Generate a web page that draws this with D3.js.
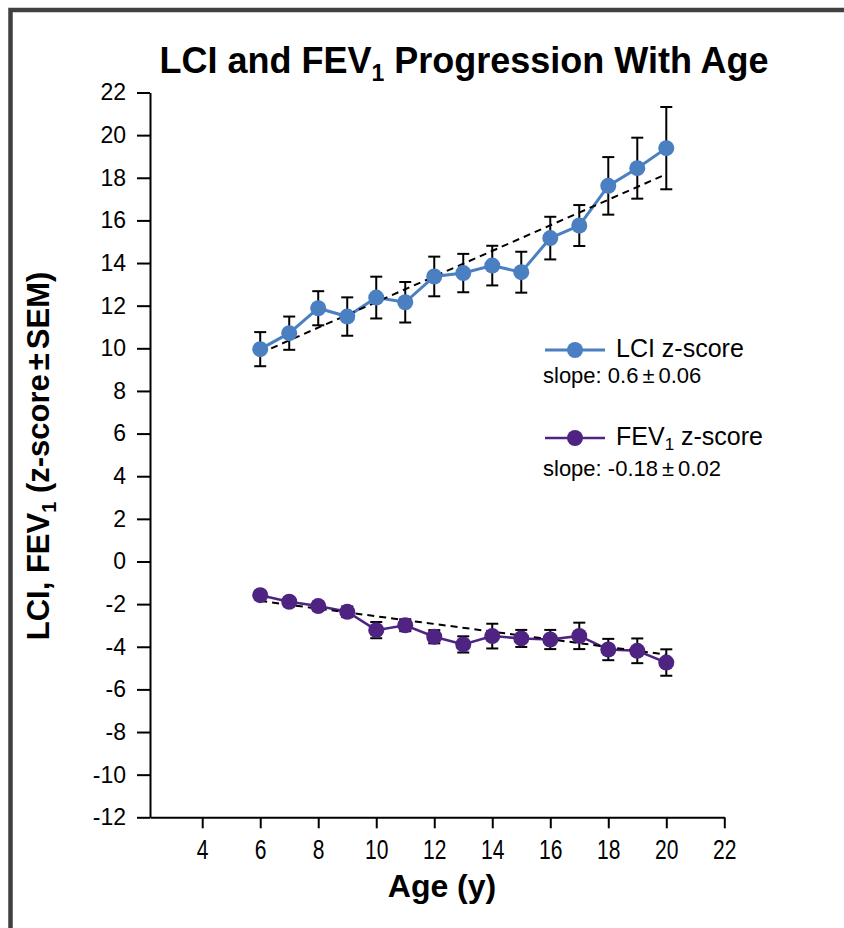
<!DOCTYPE html>
<html>
<head>
<meta charset="utf-8">
<script src="https://cdn.jsdelivr.net/npm/d3@7"></script>
<style>
  body { margin: 0; background: #fff; }
  svg { display: block; }
  text { font-family: "Liberation Sans", Arial, sans-serif; fill: #000; }
</style>
</head>
<body>
<script>
// Age in years for each group
const ages = [6, 7, 8, 9, 10, 11, 12, 13, 14, 15, 16, 17, 18, 19, 20];

// LCI z-score: mean and SEM per age
const lciMean = [9.96, 10.71, 11.88, 11.49, 12.38, 12.16, 13.37, 13.53, 13.88, 13.57, 15.17, 15.76, 17.62, 18.45, 19.39];
const lciSem  = [0.80, 0.78, 0.80, 0.90, 0.98, 0.95, 0.93, 0.90, 0.93, 0.96, 1.00, 0.96, 1.35, 1.43, 1.93];

// FEV1 z-score: mean and SEM per age
const fevMean = [-1.58, -1.89, -2.09, -2.36, -3.22, -2.99, -3.53, -3.89, -3.50, -3.61, -3.66, -3.49, -4.13, -4.19, -4.74];
const fevSem  = [0.20, 0.20, 0.20, 0.25, 0.38, 0.28, 0.31, 0.38, 0.58, 0.40, 0.45, 0.62, 0.50, 0.58, 0.62];

// Linear fits (value at first and last age)
const trendAges = [6, 20];
const lciTrend = [9.77, 18.17];
const fevTrend = [-1.85, -4.37];

// Axis ticks
const xTicks = [4, 6, 8, 10, 12, 14, 16, 18, 20, 22];
const yTicks = [-12, -10, -8, -6, -4, -2, 0, 2, 4, 6, 8, 10, 12, 14, 16, 18, 20, 22];

const W = 844, H = 928;
const LCI_COLOR = "#4a7fc1";
const FEV_COLOR = "#4f2382";
const FONT = '"Liberation Sans", Arial, sans-serif';

const svg = d3.select("body").append("svg").attr("width", W).attr("height", H);

// outer frame (left and top edges)
svg.append("path")
  .attr("d", `M10.5,${H} L10.5,10 L${W},10`)
  .attr("fill", "none").attr("stroke", "#404040").attr("stroke-width", 4.5);

const x = d3.scaleLinear().domain([2.2, 22]).range([150, 724.3]);
const y = d3.scaleLinear().domain([-12, 22]).range([817.3, 92.5]);

// axes (plain hyphen for negatives)
const yAxis = svg.append("g").attr("transform", "translate(150,0)")
  .call(d3.axisLeft(y).tickValues(yTicks).tickSize(13).tickSizeOuter(0).tickPadding(11).tickFormat(d => String(d)));
const xAxis = svg.append("g").attr("transform", "translate(0,817.3)")
  .call(d3.axisBottom(x).tickValues(xTicks).tickSize(11).tickSizeOuter(0).tickPadding(12).tickFormat(d => String(d)));

[yAxis, xAxis].forEach(g => {
  g.selectAll("path.domain, .tick line").attr("stroke", "#000").attr("stroke-width", 2);
  g.selectAll("text").style("font-family", FONT);
});
yAxis.selectAll("text").attr("font-size", 23);
// condensed digits on the age axis
xAxis.selectAll("text").attr("font-size", 27).attr("transform", "scale(0.78,1)");

// title
const title = svg.append("text").attr("x", 464).attr("y", 73)
  .attr("text-anchor", "middle").attr("font-weight", "bold").attr("font-size", 36);
title.append("tspan").text("LCI and FEV");
title.append("tspan").attr("font-size", 23).attr("dy", 8).text("1");
title.append("tspan").attr("dy", -8).text(" Progression With Age");

// axis titles
svg.append("text").attr("x", 442).attr("y", 897).attr("text-anchor", "middle")
  .attr("font-weight", "bold").attr("font-size", 32).text("Age (y)");

const yTitle = svg.append("text").attr("transform", "translate(49,456) rotate(-90)")
  .attr("text-anchor", "middle").attr("font-weight", "bold").attr("font-size", 31);
yTitle.append("tspan").text("LCI, FEV");
yTitle.append("tspan").attr("font-size", 20).attr("dy", 7).text("1");
yTitle.append("tspan").attr("dy", -7).text(" (z-score");
yTitle.append("tspan").attr("dx", 4).text("±");
yTitle.append("tspan").attr("dx", 4).text("SEM)");

const series = [
  { mean: lciMean, sem: lciSem, trend: lciTrend, color: LCI_COLOR, width: 3 },
  { mean: fevMean, sem: fevSem, trend: fevTrend, color: FEV_COLOR, width: 2.5 }
];

const line = d3.line().x(d => x(d[0])).y(d => y(d[1]));

series.forEach(s => {
  const pts = ages.map((a, i) => [a, s.mean[i]]);
  svg.append("path").datum(pts).attr("d", line)
    .attr("fill", "none").attr("stroke", s.color).attr("stroke-width", s.width);

  svg.append("path").datum(trendAges.map((a, i) => [a, s.trend[i]])).attr("d", line)
    .attr("fill", "none").attr("stroke", "#000").attr("stroke-width", 2)
    .attr("stroke-dasharray", "7,5");

  const eb = svg.append("g").attr("stroke", "#000").attr("stroke-width", 2);
  ages.forEach((a, i) => {
    const cx = x(a), top = y(s.mean[i] + s.sem[i]), bot = y(s.mean[i] - s.sem[i]);
    eb.append("line").attr("x1", cx).attr("x2", cx).attr("y1", top).attr("y2", bot);
    eb.append("line").attr("x1", cx - 6).attr("x2", cx + 6).attr("y1", top).attr("y2", top);
    eb.append("line").attr("x1", cx - 6).attr("x2", cx + 6).attr("y1", bot).attr("y2", bot);
  });

  svg.append("g").selectAll("circle").data(pts).join("circle")
    .attr("cx", d => x(d[0])).attr("cy", d => y(d[1])).attr("r", 8)
    .attr("fill", s.color);
});

// legend
function legendEntry(ly, slopeY, color, w, label, sub, rest, slope) {
  svg.append("line").attr("x1", 545).attr("x2", 605).attr("y1", ly).attr("y2", ly)
    .attr("stroke", color).attr("stroke-width", w);
  svg.append("circle").attr("cx", 575).attr("cy", ly).attr("r", 8).attr("fill", color);
  const t = svg.append("text").attr("x", 616).attr("y", ly + 7).attr("font-size", 25);
  t.append("tspan").text(label);
  if (sub) {
    t.append("tspan").attr("font-size", 17).attr("dy", 5).text(sub);
    t.append("tspan").attr("dy", -5).text(rest);
  }
  const st = svg.append("text").attr("x", 543).attr("y", slopeY).attr("font-size", 22);
  st.append("tspan").text(slope[0]);
  st.append("tspan").attr("dx", 4).text("±");
  st.append("tspan").attr("dx", 4).text(slope[1]);
}
legendEntry(350, 383, LCI_COLOR, 3, "LCI z-score", null, null, ["slope: 0.6", "0.06"]);
legendEntry(438, 476, FEV_COLOR, 2.5, "FEV", "1", " z-score", ["slope: -0.18", "0.02"]);
</script>
</body>
</html>
